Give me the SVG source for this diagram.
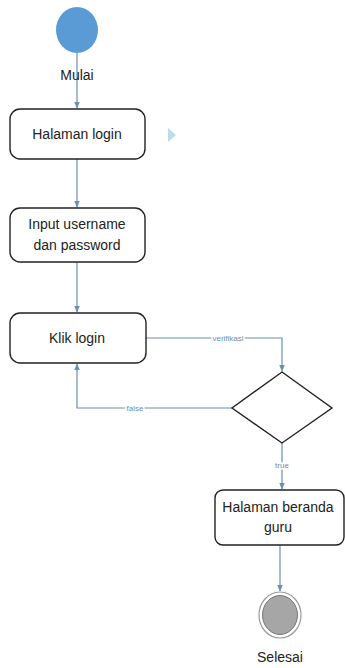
<svg xmlns="http://www.w3.org/2000/svg" width="345" height="668" viewBox="0 0 345 668">
<style>
.node{fill:#fff;stroke:#222;stroke-width:1.4}
.t{font-family:"Liberation Sans",Arial,sans-serif;font-size:14px;fill:#222;text-anchor:middle}
.lbl{font-family:"Liberation Sans",Arial,sans-serif;font-size:8px;fill:#6a8fb5;text-anchor:middle;stroke:#fff;stroke-width:3px;paint-order:stroke}
.c{fill:none;stroke:#6a8fb5;stroke-width:1.2}
</style>
<defs>
<marker id="ah" viewBox="0 0 10 10" refX="9" refY="5" markerWidth="6" markerHeight="6" orient="auto">
<path d="M0,1 L10,5 L0,9 z" fill="#6a8fb5"/>
</marker>
</defs>
<rect width="345" height="668" fill="#fff"/>
<g id="connectors">
<path class="c" d="M77,53 V108" marker-end="url(#ah)"/>
<path class="c" d="M77,159 V207" marker-end="url(#ah)"/>
<path class="c" d="M77,262 V312" marker-end="url(#ah)"/>
<path class="c" d="M146,338 H282 V371" marker-end="url(#ah)"/>
<path class="c" d="M232,408 H77 V364" marker-end="url(#ah)"/>
<path class="c" d="M282,443 V489" marker-end="url(#ah)"/>
<path class="c" d="M280,545 V591" marker-end="url(#ah)"/>
<text class="lbl" x="228" y="341">verifikasi</text>
<text class="lbl" x="135" y="411">false</text>
<text class="lbl" x="282" y="468">true</text>
</g>
<g id="start">
<ellipse cx="77" cy="30" rx="21" ry="23" fill="#5b9bd5"/>
<text class="t" x="77" y="80">Mulai</text>
</g>
<g id="halaman-login">
<rect class="node" x="10" y="109" width="135" height="50" rx="10"/>
<text class="t" x="77" y="139">Halaman login</text>
</g>
<polygon points="168,128 176,135 168,142" fill="#a8d4e6" opacity="0.8"/>
<g id="input">
<rect class="node" x="10" y="208" width="135" height="54" rx="10"/>
<text class="t" x="77" y="229">Input username</text>
<text class="t" x="77" y="250">dan password</text>
</g>
<g id="klik-login">
<rect class="node" x="10" y="313" width="136" height="50" rx="10"/>
<text class="t" x="77" y="343">Klik login</text>
</g>
<g id="decision">
<polygon class="node" points="282,372 332,408 282,443 232,408"/>
</g>
<g id="beranda">
<rect class="node" x="215" y="490" width="129" height="55" rx="8"/>
<text class="t" x="278" y="512">Halaman beranda</text>
<text class="t" x="278" y="532">guru</text>
</g>
<g id="end">
<ellipse cx="280" cy="615" rx="21" ry="23" fill="#fff" stroke="#999" stroke-width="1.2"/>
<ellipse cx="280" cy="615" rx="17.5" ry="19.5" fill="#a6a6a6" stroke="#777" stroke-width="1"/>
<text class="t" x="280" y="662">Selesai</text>
</g>
</svg>
